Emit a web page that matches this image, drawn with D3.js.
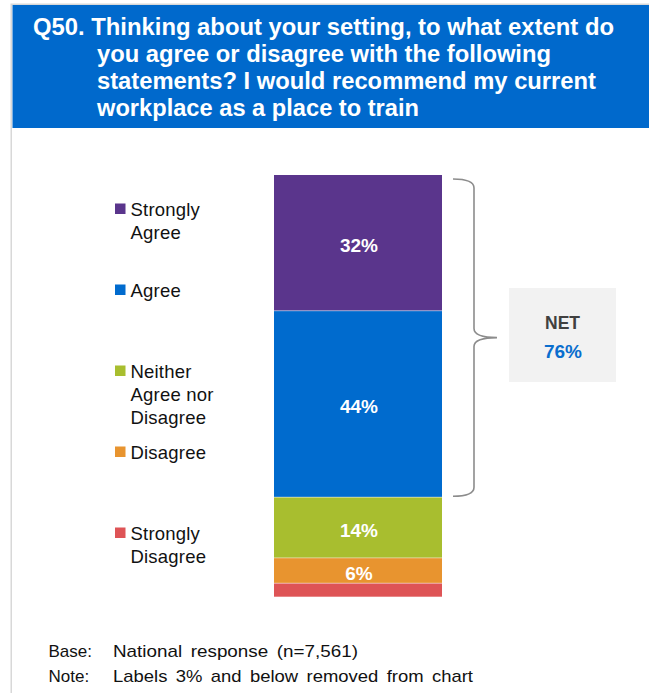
<!DOCTYPE html>
<html>
<head>
<meta charset="utf-8">
<script src="https://cdn.jsdelivr.net/npm/d3@7"></script>
<style>
  html, body { margin: 0; padding: 0; background: #fff; }
  svg { display: block; font-family: "Liberation Sans", Arial, sans-serif; }
</style>
</head>
<body>
<svg id="chart" width="649" height="693"></svg>
<script>
// ---- data ----
const titleLines = [
  "Q50. Thinking about your setting, to what extent do",
  "you agree or disagree with the following",
  "statements? I would recommend my current",
  "workplace as a place to train"
];
const categories = ["Strongly Agree", "Agree", "Neither Agree nor Disagree", "Disagree", "Strongly Disagree"];
const legendLines = [["Strongly", "Agree"], ["Agree"], ["Neither", "Agree nor", "Disagree"], ["Disagree"], ["Strongly", "Disagree"]];
const values = [32.2, 44.2, 14.4, 6.0, 3.2];
const colors = ["#5A358C", "#006BCE", "#A8BE2F", "#E8942F", "#DE5456"];
const netCategories = ["Strongly Agree", "Agree"];
const footerLabels = ["Base:", "Note:"];
const footerTexts = ["National response (n=7,561)", "Labels 3% and below removed  from chart"];

const svg = d3.select("#chart");

// frame
svg.append("rect").attr("x", 11.25).attr("y", 4.25).attr("width", 660).attr("height", 700)
  .attr("fill", "#fff").attr("stroke", "#d8d8d8").attr("stroke-width", 1.5);

// header
svg.append("rect").attr("x", 12.5).attr("y", 5).attr("width", 640).attr("height", 123).attr("fill", "#0069CC");
const titleX = [33, 97, 97, 97];
const titleW = [581, 454, 499, 322];
titleLines.forEach((t, i) => {
  svg.append("text").attr("x", titleX[i]).attr("y", 34.5 + i * 27.2)
    .attr("fill", "#fff").attr("font-weight", "bold").attr("font-size", 23.5)
    .attr("textLength", titleW[i]).attr("lengthAdjust", "spacingAndGlyphs")
    .text(t);
});

// scales
const y = d3.scaleLinear().domain([0, 100]).range([596.7, 175]);
const x = d3.scaleBand().domain(["National"]).range([274, 442]).padding(0);

// stack from top: Strongly Agree at top
let cum = 100;
const segs = values.map((v, i) => {
  const s = { cat: categories[i], v, top: cum, bot: cum - v, color: colors[i] };
  cum -= v;
  return s;
});

const g = svg.append("g");
g.selectAll("rect.seg").data(segs).enter().append("rect")
  .attr("class", "seg")
  .attr("x", x("National")).attr("width", x.bandwidth())
  .attr("y", d => y(d.top)).attr("height", d => y(d.bot) - y(d.top))
  .attr("fill", d => d.color);
// thin separators
g.selectAll("line.sep").data(segs.slice(1)).enter().append("line")
  .attr("x1", x("National")).attr("x2", x("National") + x.bandwidth())
  .attr("y1", d => y(d.top)).attr("y2", d => y(d.top))
  .attr("stroke", "#ffffff").attr("stroke-opacity", 0.45).attr("stroke-width", 1);

g.selectAll("text.lab").data(segs.filter(d => Math.round(d.v) > 3)).enter().append("text")
  .attr("x", x("National") + x.bandwidth() / 2 + 1)
  .attr("y", d => (y(d.top) + y(d.bot)) / 2 + 9.3)
  .attr("text-anchor", "middle").attr("fill", "#fff").attr("font-weight", "bold").attr("font-size", 19)
  .text(d => Math.round(d.v) + "%");

// legend
const leg = svg.append("g");
legendLines.forEach((lines, i) => {
  const top = 203.5 + i * 81;
  leg.append("rect").attr("x", 115).attr("y", top).attr("width", 10.5).attr("height", 10.5).attr("fill", colors[i]);
  lines.forEach((l, j) => {
    leg.append("text").attr("x", 130.5).attr("y", top + 12.5 + j * 23)
      .attr("font-size", 18.5).attr("letter-spacing", 0.2).attr("fill", "#111").text(l);
  });
});

// bracket for NET
const netVal = segs.filter(d => netCategories.includes(d.cat)).reduce((a, d) => a + d.v, 0);
const bTop = y(100) + 4;
const bBot = y(100 - netVal) - 1;
const bMid = (bTop + bBot) / 2;
const xl = 453, xv = 474, xt = 497;
const p = d3.path();
p.moveTo(xl, bTop);
p.quadraticCurveTo(xv, bTop, xv, bTop + 9);
p.lineTo(xv, bMid - 9);
p.quadraticCurveTo(xv, bMid, xt, bMid);
p.quadraticCurveTo(xv, bMid, xv, bMid + 9);
p.lineTo(xv, bBot - 9);
p.quadraticCurveTo(xv, bBot, xl, bBot);
svg.append("path").attr("d", p.toString()).attr("fill", "none").attr("stroke", "#8c8c8c").attr("stroke-width", 1.6);

// NET box
svg.append("rect").attr("x", 509).attr("y", 288).attr("width", 107).attr("height", 94).attr("fill", "#F2F2F2");
svg.append("text").attr("x", 562.5).attr("y", 328.5).attr("text-anchor", "middle")
  .attr("font-weight", "bold").attr("font-size", 17.5).attr("fill", "#404040").text("NET");
svg.append("text").attr("x", 563).attr("y", 357.5).attr("text-anchor", "middle")
  .attr("font-weight", "bold").attr("font-size", 19).attr("fill", "#0A6ECE").text(Math.round(netVal) + "%");

// footer
const footW = [245, 360];
footerLabels.forEach((lab, i) => {
  svg.append("text").attr("x", 48.5).attr("y", 657.3 + i * 25).attr("font-size", 17).attr("fill", "#111").text(lab);
  svg.append("text").attr("x", 113).attr("y", 657.3 + i * 25).attr("font-size", 17).attr("fill", "#111")
    .attr("word-spacing", 3).attr("textLength", footW[i]).attr("lengthAdjust", "spacingAndGlyphs")
    .text(footerTexts[i]);
});
</script>
</body>
</html>
